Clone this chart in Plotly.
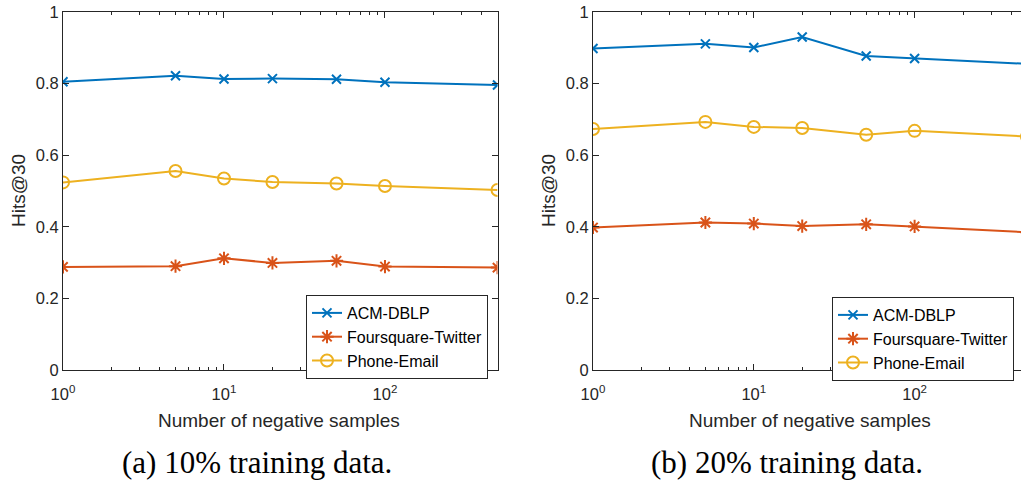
import plotly.graph_objects as go

# ---- data ----
neg_samples = [1, 5, 10, 20, 50, 100, 500]
series_names = ["ACM-DBLP", "Foursquare-Twitter", "Phone-Email"]

acm_10 = [0.805, 0.822, 0.813, 0.814, 0.812, 0.804, 0.796]
fsq_10 = [0.288, 0.290, 0.312, 0.299, 0.305, 0.289, 0.286]
phone_10 = [0.524, 0.556, 0.535, 0.525, 0.521, 0.514, 0.503]

acm_20 = [0.898, 0.911, 0.901, 0.930, 0.877, 0.870, 0.855]
fsq_20 = [0.398, 0.412, 0.409, 0.402, 0.407, 0.401, 0.385]
phone_20 = [0.673, 0.693, 0.679, 0.676, 0.657, 0.668, 0.652]

y_ticks = [0, 0.2, 0.4, 0.6, 0.8, 1]
y_ticklabels = ["0", "0.2", "0.4", "0.6", "0.8", "1"]
x_ticks = [1, 10, 100]
x_ticklabels = ["10<sup>0</sup>", "10<sup>1</sup>", "10<sup>2</sup>"]
x_minor = [2, 3, 4, 5, 6, 7, 8, 9, 20, 30, 40, 50, 60, 70, 80, 90, 200, 300, 400]

x_title = "Number of negative samples"
y_title = "Hits@30"
captions = ["(a) 10% training data.", "(b) 20% training data."]

colors = ["#0072BD", "#D95319", "#EDB120"]
symbols = ["x-thin-open", "asterisk-open", "circle-open"]
sizes = [9, 11, 12]

W, H = 1021, 483
AX = "#262626"
FONT = "Liberation Sans, Arial, sans-serif"

fig = go.Figure()

panels = [
    ([acm_10, fsq_10, phone_10], "x", "y", "legend"),
    ([acm_20, fsq_20, phone_20], "x2", "y2", "legend2"),
]
for data, xa, ya, lg in panels:
    for i, vals in enumerate(data):
        fig.add_trace(go.Scatter(
            x=neg_samples, y=vals, name=series_names[i], mode="lines+markers",
            xaxis=xa, yaxis=ya, legend=lg,
            line=dict(color=colors[i], width=2),
            marker=dict(symbol=symbols[i], size=sizes[i], color=colors[i],
                        line=dict(color=colors[i], width=2)),
        ))


def px_x(p):
    return p / W


def px_y(p):
    return 1 - p / H


ydom = [px_y(370), px_y(12)]

common_x = dict(
    type="log", tickvals=x_ticks, ticktext=x_ticklabels, ticks="inside", ticklen=6,
    tickcolor=AX, linecolor=AX, linewidth=1, showline=True, showgrid=False, zeroline=False,
    tickfont=dict(family=FONT, size=16.5, color=AX), ticklabelstandoff=9,
    minor=dict(tickvals=x_minor, ticks="inside", ticklen=3, tickcolor=AX, showgrid=False),
    mirror="allticks", automargin=False,
)
common_y = dict(
    range=[0, 1], tickvals=y_ticks, ticktext=y_ticklabels, ticks="inside", ticklen=6,
    tickcolor=AX, linecolor=AX, linewidth=1, showline=True, showgrid=False, zeroline=False,
    tickfont=dict(family=FONT, size=16.5, color=AX), automargin=False,
)

fig.update_layout(
    width=W, height=H, margin=dict(l=0, r=0, t=0, b=0, autoexpand=False),
    paper_bgcolor="white", plot_bgcolor="white",
    xaxis=dict(common_x, domain=[px_x(63), px_x(497.5)], range=[0, 2.699], anchor="y"),
    yaxis=dict(common_y, domain=ydom, anchor="x", mirror="allticks"),
    xaxis2=dict(common_x, domain=[px_x(593), 1.0], range=[0, (1021 - 593) / 160.8], anchor="y2"),
    yaxis2=dict(common_y, domain=ydom, anchor="x2", mirror=False),
    legend=dict(x=px_x(306), y=px_y(295), xanchor="left", yanchor="top",
                bgcolor="white", bordercolor=AX, borderwidth=1,
                font=dict(family=FONT, size=16, color="black"), tracegroupgap=0),
    legend2=dict(x=px_x(832), y=px_y(297), xanchor="left", yanchor="top",
                 bgcolor="white", bordercolor=AX, borderwidth=1,
                 font=dict(family=FONT, size=16, color="black"), tracegroupgap=0),
    showlegend=True,
)

# axis titles
for cx in [279, 810]:
    fig.add_annotation(text=x_title, x=px_x(cx), y=px_y(420), xref="paper", yref="paper",
                       showarrow=False, xanchor="center", yanchor="middle",
                       font=dict(family=FONT, size=19, color=AX))
for cx in [18, 548]:
    fig.add_annotation(text=y_title, x=px_x(cx), y=px_y(191), xref="paper", yref="paper",
                       showarrow=False, xanchor="center", yanchor="middle", textangle=-90,
                       font=dict(family=FONT, size=19, color=AX))

# captions
for cap, cx in zip(captions, [257, 787]):
    fig.add_annotation(text=cap, x=px_x(cx), y=px_y(462), xref="paper", yref="paper",
                       showarrow=False, xanchor="center", yanchor="middle",
                       font=dict(family="Liberation Serif, DejaVu Serif, serif", size=31, color="black"))

fig.write_html("out.html")
